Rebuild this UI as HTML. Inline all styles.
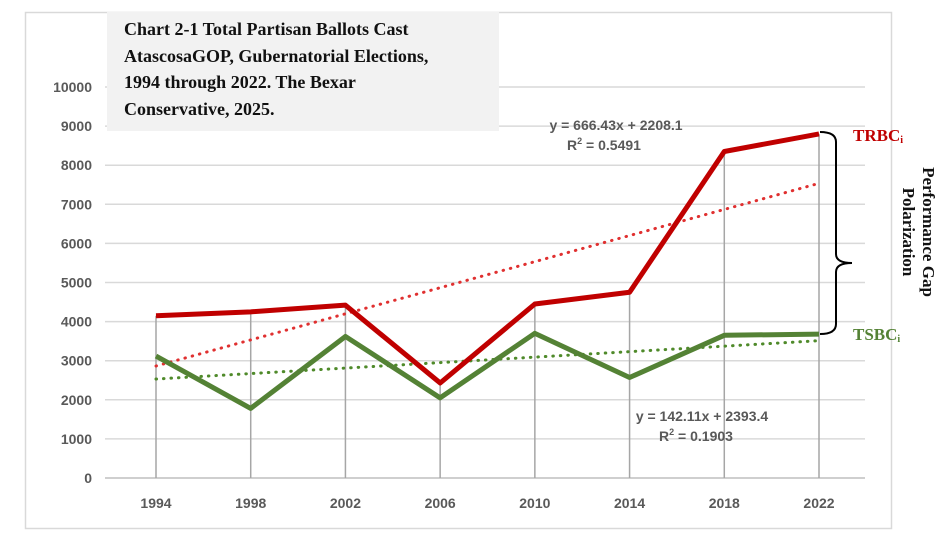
<!DOCTYPE html>
<html><head><meta charset="utf-8"><style>
body{margin:0;background:#fff;width:948px;height:542px;overflow:hidden;font-family:"Liberation Sans",sans-serif}
svg{position:absolute;left:0;top:0}
#title{position:absolute;left:107px;top:12px;width:392px;height:119px;background:#f2f2f2;font-family:"Liberation Serif",serif;font-weight:bold;font-size:18px;line-height:26.5px;padding:4px 0 0 17px;box-sizing:border-box;color:#111;white-space:nowrap}
</style></head><body>
<svg id="chart" width="948" height="542"></svg>
<div id="title">Chart 2-1 Total Partisan Ballots Cast<br>AtascosaGOP, Gubernatorial Elections,<br>1994 through 2022. The Bexar<br>Conservative, 2025.</div>
<script>
const years=["1994","1998","2002","2006","2010","2014","2018","2022"];
const trbc=[4150,4250,4420,2430,4450,4750,8350,8800];
const tsbc=[3120,1780,3620,2050,3700,2570,3650,3680];
const yTicks=[0,1000,2000,3000,4000,5000,6000,7000,8000,9000,10000];
const svg=document.getElementById('chart');const NS='http://www.w3.org/2000/svg';
function X(i){return 156+i*(819-156)/7;}
function Y(v){return 478-v*(478-87)/10000;}
function mk(t,a,p){const e=document.createElementNS(NS,t);for(const k in a)e.setAttribute(k,a[k]);(p||svg).appendChild(e);return e;}
const frame=mk('rect',{x:25.5,y:12.5,width:866,height:516,fill:'none',stroke:'#d9d9d9','stroke-width':1.5});


yTicks.forEach(v=>{
 const g=mk('line',{x1:105,x2:865,y1:Y(v),y2:Y(v),stroke:v===0?'#bfbfbf':'#d9d9d9','stroke-width':1.5});
 
 
 const t=mk('text',{x:92,y:Y(v)+5,'text-anchor':'end','font-size':14,'font-weight':'bold',fill:'#595959'});t.textContent=v;
 
 
});
years.forEach((y,i)=>{
 const d=mk('line',{x1:X(i),x2:X(i),y1:Y(Math.max(trbc[i],tsbc[i])),y2:Y(0),stroke:'#a6a6a6','stroke-width':1.5});
 
 
 const t=mk('text',{x:X(i),y:508,'text-anchor':'middle','font-size':14,'font-weight':'bold',fill:'#595959'});t.textContent=y;
 
 
});
function trend(arr,color,name){
 const n=arr.length;let sx=0,sy=0,sxy=0,sxx=0;
 arr.forEach((v,i)=>{const x=i+1;sx+=x;sy+=v;sxy+=x*v;sxx+=x*x;});
 const m=(n*sxy-sx*sy)/(n*sxx-sx*sx),b=(sy-m*sx)/n;
 const l=mk('line',{x1:X(0),y1:Y(m+b),x2:X(n-1),y2:Y(m*n+b),stroke:color,'stroke-width':3,'stroke-dasharray':'0.5 7','stroke-linecap':'round'});
 
 
}
function series(arr,color,name){
 const p=mk('polyline',{points:arr.map((v,i)=>X(i)+','+Y(v)).join(' '),fill:'none',stroke:color,'stroke-width':5,'stroke-linejoin':'round'});
 
 
}
trend(trbc,'#e03030','trbc-trendline');
trend(tsbc,'#4f8a2a','tsbc-trendline');
series(tsbc,'#548235','tsbc-line');
series(trbc,'#c00000','trbc-line');
function txt(s,x,y,a,name){const t=mk('text',Object.assign({x:x,y:y},a));t.innerHTML=s;
 
 return t;}
const eq={'font-size':14,'font-weight':'bold',fill:'#595959','text-anchor':'middle'};
txt('y = 666.43x + 2208.1',616,130,eq,'trbc-equation');
txt('R<tspan font-size="9" dy="-6">2</tspan><tspan dy="6"> = 0.5491</tspan>',604,150,eq,'trbc-r2');
txt('y = 142.11x + 2393.4',702,421,eq,'tsbc-equation');
txt('R<tspan font-size="9" dy="-6">2</tspan><tspan dy="6"> = 0.1903</tspan>',696,441,eq,'tsbc-r2');
const br=mk('path',{d:'M820,132 Q836,132 836,142 L836,254 Q836,263 852,263 Q836,263 836,272 L836,324 Q836,334 820,334',fill:'none',stroke:'#000','stroke-width':2});


const lf={'font-family':'Liberation Serif, serif','font-weight':'bold','font-size':17};
txt('TRBC<tspan font-size="10" dy="2">i</tspan>',853,141,Object.assign({fill:'#c00000'},lf),'trbc-label');
txt('TSBC<tspan font-size="10" dy="2">i</tspan>',853,340,Object.assign({fill:'#548235'},lf),'tsbc-label');
txt('Performance Gap',923,232,Object.assign({fill:'#111','text-anchor':'middle',transform:'rotate(90 923 232)'},lf),'gap-title-1');
txt('Polarization',903,232,Object.assign({fill:'#111','text-anchor':'middle',transform:'rotate(90 903 232)'},lf),'gap-title-2');
</script>
</body></html>
